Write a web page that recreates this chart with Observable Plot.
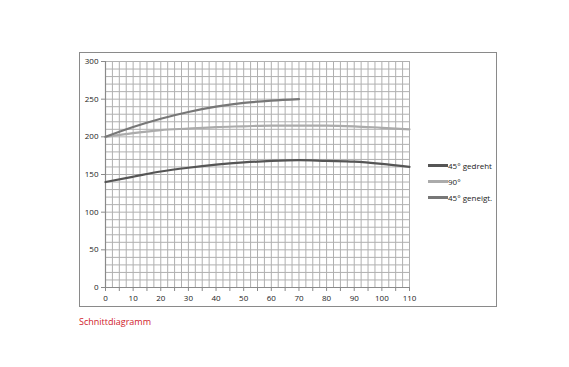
<!DOCTYPE html>
<html><head><meta charset="utf-8">
<script src="https://cdn.jsdelivr.net/npm/d3@7"></script>
<script src="https://cdn.jsdelivr.net/npm/@observablehq/plot@0.6"></script>
<style>
html,body{margin:0;padding:0;background:#fff;}
#wrap{position:relative;width:569px;height:367px;font-family:"Open Sans",sans-serif;}
#frame{position:absolute;left:79px;top:52px;width:418px;height:255px;border:1.5px solid #8a8a8a;box-sizing:border-box;pointer-events:none;}
#legend{position:absolute;left:428px;top:157px;font-size:8px;color:#222;}
#legend div{display:flex;align-items:center;height:16px;}
#legend span.sw{display:inline-block;width:20px;height:3px;}
#caption{position:absolute;left:79px;top:315px;font-size:9px;color:#d0202a;}
#chart{position:absolute;left:0;top:0;}
</style></head>
<body><div id="wrap"><div id="chart"></div><div id="frame"></div><div id="legend"></div><div id="caption">Schnittdiagramm</div></div>
<script>
const xs = [0,10,20,30,40,50,60,70,80,90,100,110];
const gedreht = [140,147,154,159,163,166,168,169,168,167,164,160];
const neunzig = [200,205,209,211,213,214,215,215,215,214,212,210];
const xsGeneigt = [0,10,20,30,40,50,60,70];
const geneigt = [200,213,224,233,240,245,248,250];
const seriesNames = ["45° gedreht","90°","45° geneigt."];
const seriesColors = ["#555555","#ababab","#777777"];
const xTicks = d3.range(0,111,5);
const yTicks = [0,50,100,150,200,250,300];

const data = [
  ...xs.map((x,i)=>({x, y:gedreht[i], s:seriesNames[0]})),
  ...xs.map((x,i)=>({x, y:neunzig[i], s:seriesNames[1]})),
  ...xsGeneigt.map((x,i)=>({x, y:geneigt[i], s:seriesNames[2]}))
];

const chart = Plot.plot({
  width:569, height:367,
  marginLeft:105, marginRight:160, marginTop:61, marginBottom:80,
  style:{fontFamily:"Open Sans, sans-serif", fontSize:"8px", color:"#222", background:"transparent"},
  x:{domain:[0,110]},
  y:{domain:[0,300]},
  color:{domain:seriesNames, range:seriesColors},
  marks:[
    Plot.gridX(d3.range(0,110.1,2.5), {stroke:"#b0b0b0", strokeOpacity:1, strokeWidth:1}),
    Plot.gridY(d3.range(0,301,10), {stroke:"#b0b0b0", strokeOpacity:1, strokeWidth:1}),
    Plot.ruleX([0], {stroke:"#8a8a8a", strokeWidth:1.2}),
    Plot.ruleY([0], {stroke:"#8a8a8a", strokeWidth:1.2}),
    Plot.axisX({ticks:xTicks, tickSize:4, tickPadding:4, stroke:"#8a8a8a", tickFormat:d=>d%10===0?d:"", label:null}),
    Plot.axisY({ticks:yTicks, tickSize:4, tickPadding:3, stroke:"#8a8a8a", label:null}),
    Plot.line(data, {x:"x", y:"y", z:"s", stroke:"s", strokeWidth:2.2, curve:"monotone-x"})
  ]
});
document.getElementById("chart").appendChild(chart);

const lg = document.getElementById("legend");
seriesNames.forEach((n,i)=>{
  const d = document.createElement("div");
  d.innerHTML = `<span class="sw" style="background:${seriesColors[i]}"></span>${n}`;
  lg.appendChild(d);
});
</script></body></html>
